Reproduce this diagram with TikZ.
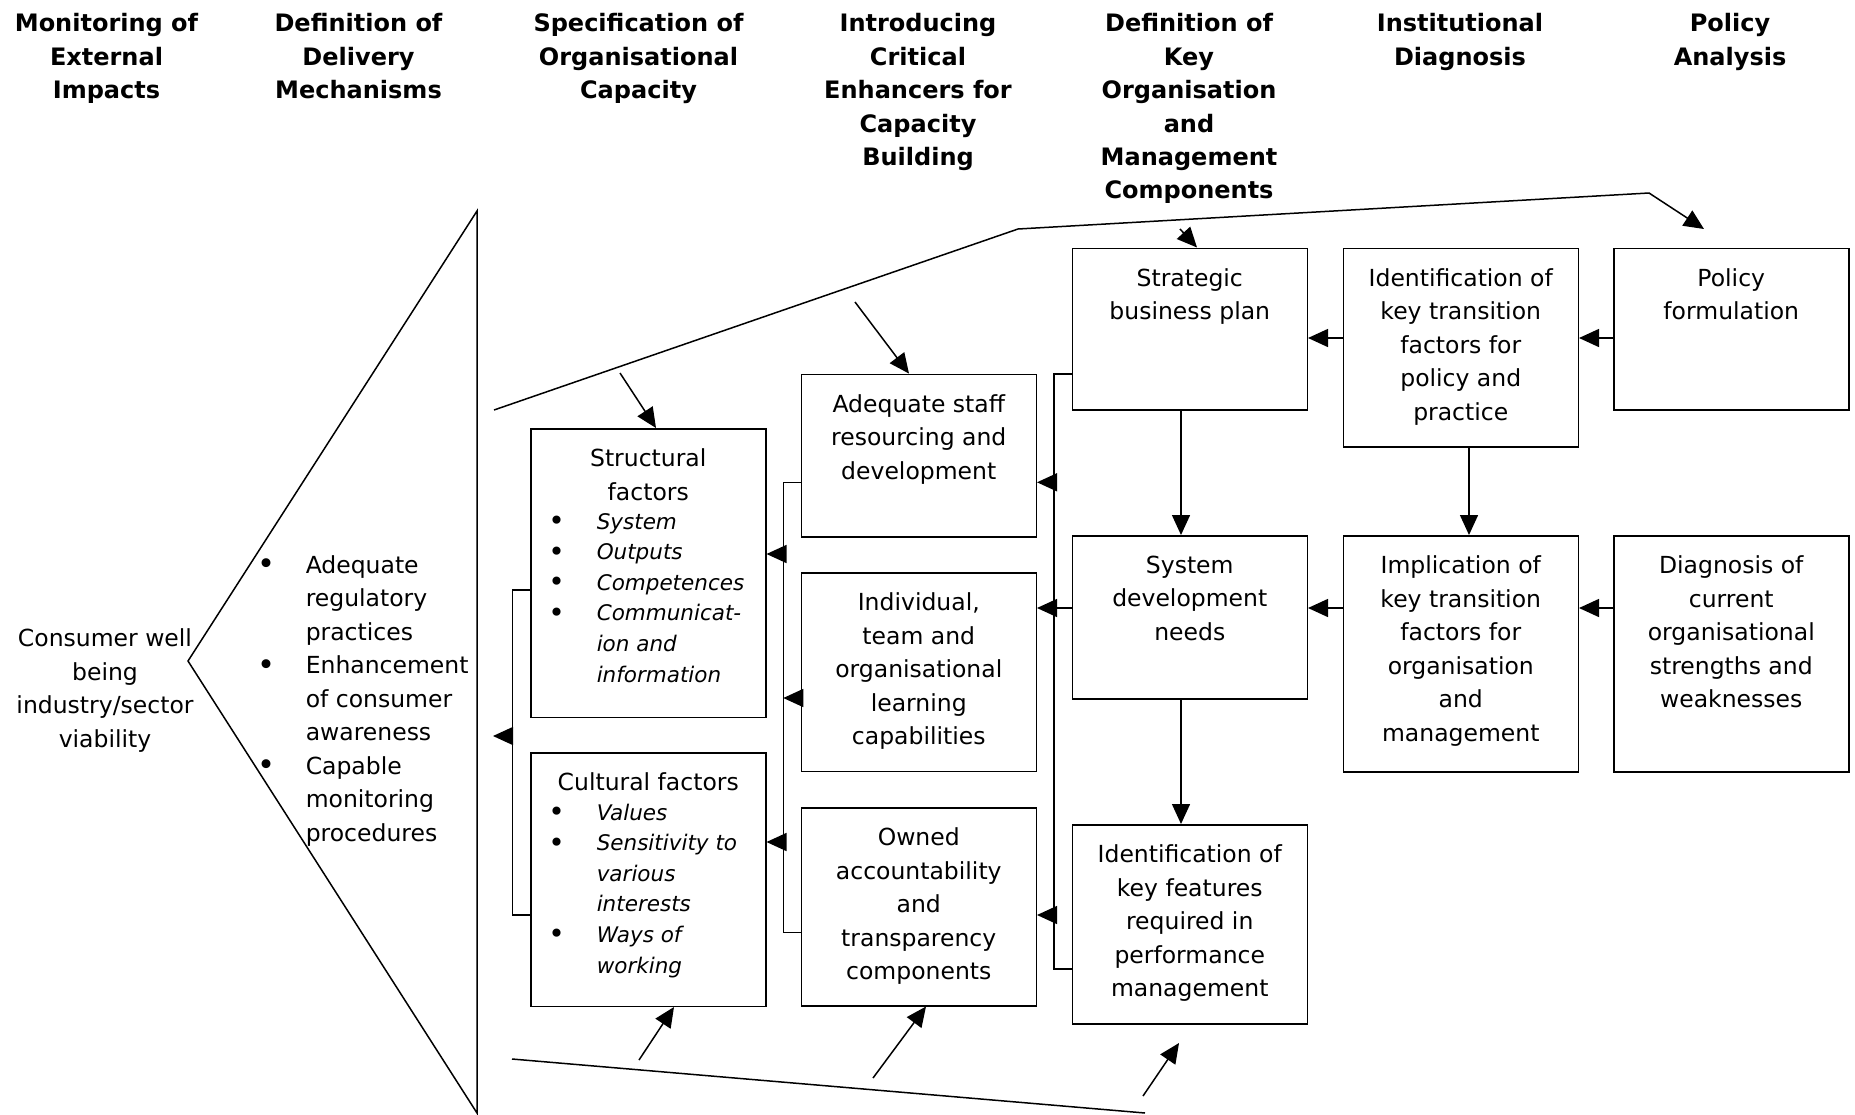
\documentclass[tikz,border=0pt]{standalone}
\usepackage{fontspec}
\setmainfont{DejaVu Sans}
\usepackage{graphicx}
\usetikzlibrary{arrows.meta}
\newcommand\bodyfont{\fontsize{23.5}{33.5}\selectfont}
\newcommand\hdrfont{\fontsize{24}{33.4}\selectfont\bfseries}
\newcommand\itemfont{\fontsize{21.5}{30.6}\selectfont\itshape}
\newcommand\bul{\raisebox{-1.5pt}{\scalebox{1.3}{\upshape\textbullet}}}
\newcommand\bi[1]{\makebox[#1][l]{\bul}}
\begin{document}
\begin{tikzpicture}[x=1pt,y=-1pt,line width=1.5pt,
  box/.style={draw,line width=1.5pt,inner sep=0pt,minimum width=235pt,anchor=north west},
  lab/.style={anchor=north,yshift=-20pt,inner sep=0pt,align=center,font=\bodyfont},
  hdr/.style={anchor=north,inner sep=0pt,align=center,font=\hdrfont},
  arr/.style={-{Triangle[length=20pt,width=18pt]}}]
\useasboundingbox (0,0) rectangle (1855,1114);

% headers
\node[hdr] (h1) at (106.5,13) {Monitoring of\\External\\Impacts};
\node[hdr] (h2) at (358.5,13) {Definition of\\Delivery\\Mechanisms};
\node[hdr] (h3) at (638.5,13) {Specification of\\Organisational\\Capacity};
\node[hdr] (h4) at (918,13) {Introducing\\Critical\\Enhancers for\\Capacity\\Building};
\node[hdr] (h5) at (1189,13) {Definition of\\Key\\Organisation\\and\\Management\\Components};
\node[hdr] (h6) at (1460,13) {Institutional\\Diagnosis};
\node[hdr] (h7) at (1730,13) {Policy\\Analysis};

% triangle
\draw (477,211) -- (188,661) -- (477,1113) -- cycle;
\node[anchor=north,inner sep=0pt,align=center,font=\bodyfont] (cons) at (105,628)
  {Consumer well\\being\\industry/sector\\viability};
\node[anchor=base west,inner sep=0pt,font=\bodyfont] (deliv) at (256.6,573)
  {\begin{tabular}[t]{@{}l@{}l@{}}
   \bi{48.4pt} & Adequate\\
   & regulatory\\
   & practices\\
   \bi{48.4pt} & Enhancement\\
   & of consumer\\
   & awareness\\
   \bi{48.4pt} & Capable\\
   & monitoring\\
   & procedures
   \end{tabular}};

% boxes
\node[box,minimum height=288.5pt,label={[lab]north:{Structural\\factors}}] (str) at (530,428) {};
\node[box,minimum height=253.5pt,label={[lab]north:{Cultural factors}}] (cul) at (530,752) {};
\node[box,minimum height=162.5pt,label={[lab]north:{Adequate staff\\resourcing and\\development}}] (ads) at (800.5,373.6) {};
\node[box,minimum height=198.5pt,label={[lab]north:{Individual,\\team and\\organisational\\learning\\capabilities}}] (ind) at (800.5,572) {};
\node[box,minimum height=198pt,label={[lab]north:{Owned\\accountability\\and\\transparency\\components}}] (own) at (800.5,807) {};
\node[box,minimum height=161.5pt,label={[lab]north:{Strategic\\business plan}}] (sbp) at (1071.5,247.5) {};
\node[box,minimum height=163pt,label={[lab]north:{System\\development\\needs}}] (sdn) at (1071.5,535) {};
\node[box,minimum height=199pt,label={[lab]north:{Identification of\\key features\\required in\\performance\\management}}] (fea) at (1071.5,824) {};
\node[box,minimum height=198.5pt,label={[lab]north:{Identification of\\key transition\\factors for\\policy and\\practice}}] (ikt) at (1342.5,247.5) {};
\node[box,minimum height=236pt,label={[lab]north:{Implication of\\key transition\\factors for\\organisation\\and\\management}}] (imp) at (1342.5,535) {};
\node[box,minimum height=161.5pt,label={[lab]north:{Policy\\formulation}}] (pol) at (1613,247.5) {};
\node[box,minimum height=236pt,label={[lab]north:{Diagnosis of\\current\\organisational\\strengths and\\weaknesses}}] (dia) at (1613,535) {};

% bullet lists
\node[anchor=base west,inner sep=0pt,font=\itemfont] (strlist) at (547.5,529)
  {\begin{tabular}[t]{@{}l@{}l@{}}
   \bi{48.5pt} & System\\
   \bi{48.5pt} & Outputs\\
   \bi{48.5pt} & Competences\\
   \bi{48.5pt} & Communicat-\\
   & ion and\\
   & information
   \end{tabular}};
\node[anchor=base west,inner sep=0pt,font=\itemfont] (cullist) at (547.5,820)
  {\begin{tabular}[t]{@{}l@{}l@{}}
   \bi{48.5pt} & Values\\
   \bi{48.5pt} & Sensitivity to\\
   & various\\
   & interests\\
   \bi{48.5pt} & Ways of\\
   & working
   \end{tabular}};

% bus A
\coordinate (aT) at (512.3,590);
\coordinate (aB) at (512.3,915);
\coordinate (aM) at (512.3,736);
\coordinate (aTip) at (493,736);
\draw (str.west |- aT) -- (aT) -- (aB) -- (cul.west |- aB);
\draw[arr] (aM) -- (aTip);

% bus B
\coordinate (bT) at (783.3,482.3);
\coordinate (bB) at (783.3,932.7);
\coordinate (b1) at (783.3,554);
\coordinate (b2) at (783.3,698);
\coordinate (b3) at (783.3,842);
\draw (ads.west |- bT) -- (bT) -- (bB) -- (own.west |- bB);
\draw[arr] (b1) -- (str.east |- b1);
\draw[arr] (ind.west |- b2) -- (b2);
\draw[arr] (b3) -- (cul.east |- b3);

% bus C
\coordinate (cT) at (1054,374);
\coordinate (cB) at (1054,969);
\coordinate (c1) at (1054,482.3);
\coordinate (c2) at (1054,608);
\coordinate (c3) at (1054,915);
\draw (sbp.west |- cT) -- (cT) -- (cB) -- (fea.west |- cB);
\draw (sdn.west |- c2) -- (c2);
\draw[arr] (c1) -- (ads.east |- c1);
\draw[arr] (c2) -- (ind.east |- c2);
\draw[arr] (c3) -- (own.east |- c3);

% right part
\draw[arr] (ikt.west |- 0,338) -- (sbp.east |- 0,338);
\draw[arr] (pol.west |- 0,338) -- (ikt.east |- 0,338);
\draw[arr] (imp.west |- 0,608) -- (sdn.east |- 0,608);
\draw[arr] (dia.west |- 0,608) -- (imp.east |- 0,608);
\draw[arr] (sbp.south -| 1181,0) -- (sdn.north -| 1181,0);
\draw[arr] (ikt.south -| 1469,0) -- (imp.north -| 1469,0);
\draw[arr] (sdn.south -| 1181,0) -- (fea.north -| 1181,0);

% envelope top
\coordinate (e1) at (494,410);
\coordinate (e2) at (1018,229);
\coordinate (e3) at (1649,193);
\coordinate (e4) at (1704,229);
\draw[arr] (e1) -- (e2) -- (e3) -- (e4);
\coordinate (t1) at (620,373);
\coordinate (t2) at (855,302);
\coordinate (t3) at (1180,229);
\draw[arr] (t1) -- (str.north -| 656,0);
\draw[arr] (t2) -- (ads.north -| 909,0);
\draw[arr] (t3) -- (sbp.north -| 1197,0);

% envelope bottom
\coordinate (f1) at (512,1059);
\coordinate (f2) at (1145,1113);
\draw (f1) -- (f2);
\coordinate (u1) at (639,1060);
\coordinate (u2) at (873,1078);
\coordinate (u3) at (1143,1096);
\coordinate (u4) at (1179,1043);
\draw[arr] (u1) -- (cul.south -| 674,0);
\draw[arr] (u2) -- (own.south -| 926,0);
\draw[arr] (u3) -- (u4);
\end{tikzpicture}
\end{document}
